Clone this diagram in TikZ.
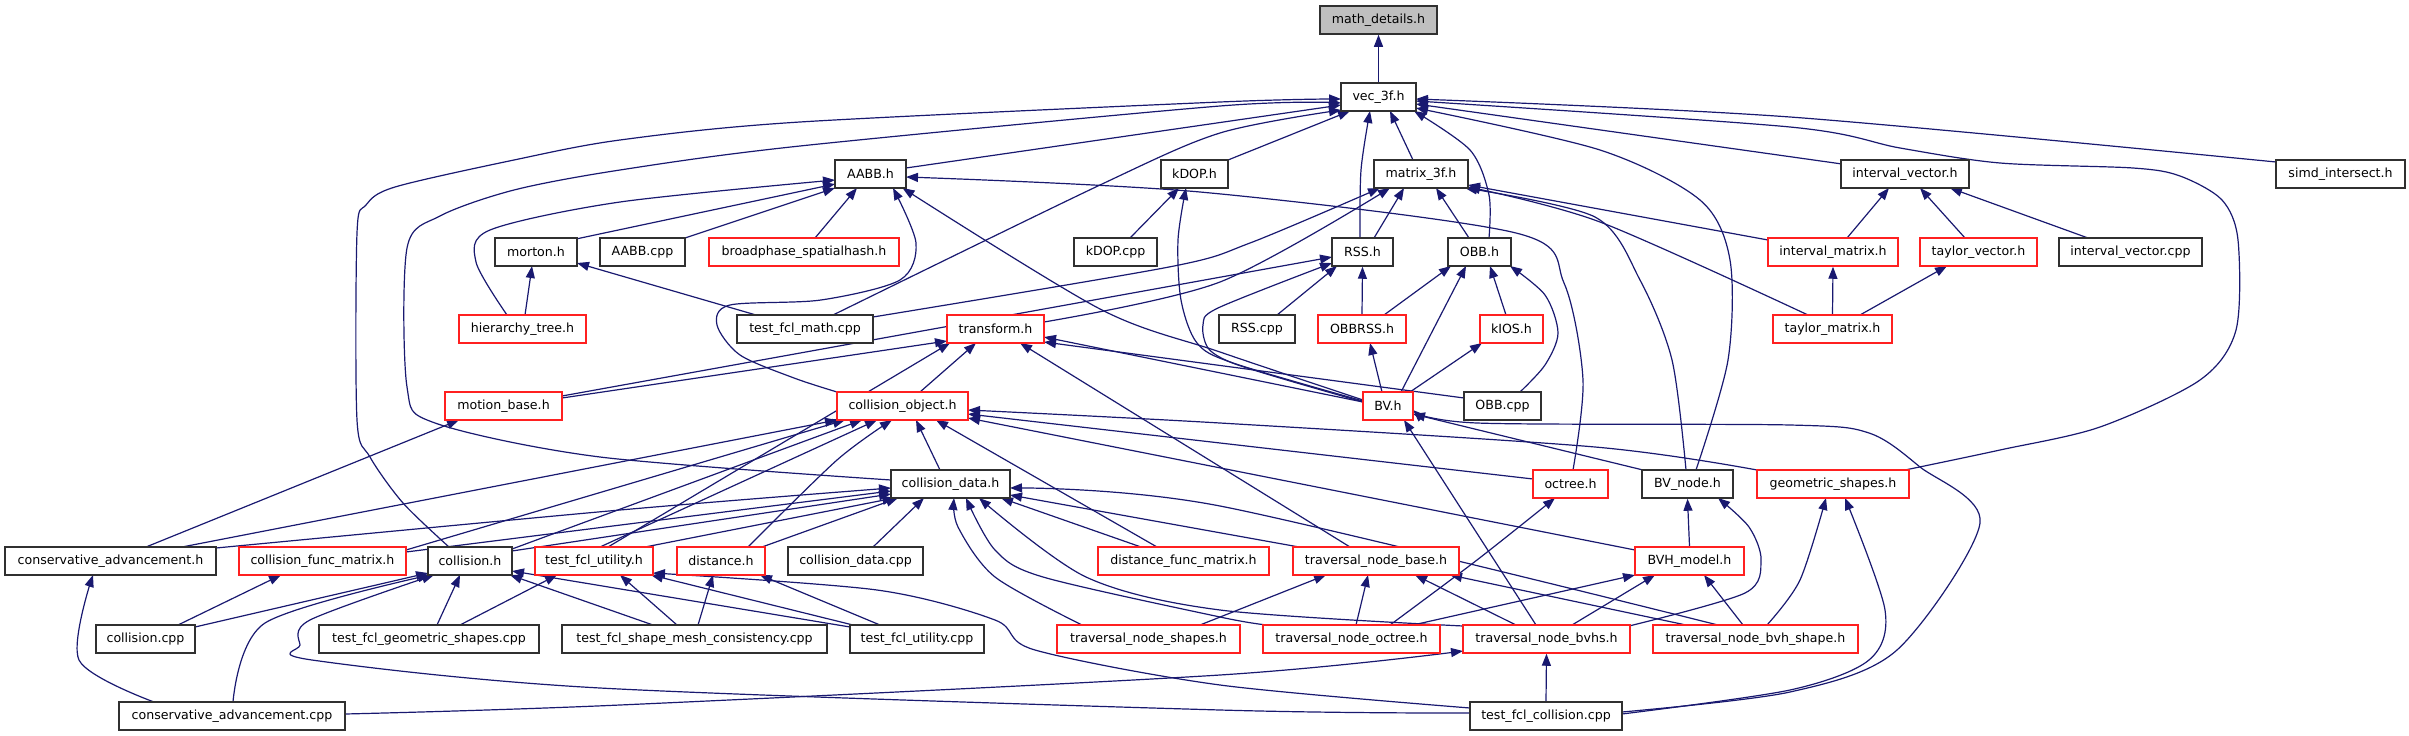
\documentclass[tikz,border=0pt]{standalone}
\usepackage{fontspec}
\newfontfamily\dvfont{DejaVu Sans}
\usetikzlibrary{calc,arrows.meta,backgrounds}
\definecolor{edgec}{HTML}{191970}
\definecolor{mdgray}{HTML}{BFBFBF}
\definecolor{nred}{HTML}{FF2020}
\definecolor{nblk}{HTML}{303030}
\tikzset{
  nb/.style={draw=nblk, line width=1.5pt, minimum height=28pt, inner sep=0pt, fill=white,
             font=\dvfont\fontsize{12.6}{15}\selectfont},
  nr/.style={nb, draw=nred},
  ng/.style={nb, fill=mdgray},
  edg/.style={draw=edgec, line width=1.2pt, -{Triangle[length=12pt,width=9pt]}},
}
\begin{document}
\begin{tikzpicture}[x=1pt,y=-1pt]
\useasboundingbox (0,0) rectangle (2409,736);
% row 0/1/2
\node[ng,minimum width=117pt] (md) at (1378.5,20) {math\_details.h};
\node[nb,minimum width=75pt] (v3) at (1378.5,97) {vec\_3f.h};
\node[nb,minimum width=71pt] (aabb) at (870.5,174) {AABB.h};
\node[nb,minimum width=67pt] (kdop) at (1194.5,174) {kDOP.h};
\node[nb,minimum width=94pt] (m3) at (1421,174) {matrix\_3f.h};
\node[nb,minimum width=128pt] (iv) at (1905,174) {interval\_vector.h};
\node[nb,minimum width=129pt] (simd) at (2340.5,174) {simd\_intersect.h};
% row 3
\node[nb,minimum width=82pt] (morton) at (536,252) {morton.h};
\node[nb,minimum width=85pt] (aabbcpp) at (642.5,252) {AABB.cpp};
\node[nr,minimum width=190pt] (bph) at (804,252) {broadphase\_spatialhash.h};
\node[nb,minimum width=83pt] (kdopcpp) at (1115.5,252) {kDOP.cpp};
\node[nb,minimum width=61pt] (rss) at (1362.5,252) {RSS.h};
\node[nb,minimum width=63pt] (obb) at (1479.5,252) {OBB.h};
\node[nr,minimum width=130pt] (im) at (1833,252) {interval\_matrix.h};
\node[nr,minimum width=117pt] (tv) at (1978.5,252) {taylor\_vector.h};
\node[nb,minimum width=143pt] (ivcpp) at (2130.5,252) {interval\_vector.cpp};
% row 4
\node[nr,minimum width=127pt] (ht) at (522.5,329) {hierarchy\_tree.h};
\node[nb,minimum width=136pt] (tmath) at (805,329) {test\_fcl\_math.cpp};
\node[nr,minimum width=97pt] (tf) at (995.5,329) {transform.h};
\node[nb,minimum width=76pt] (rsscpp) at (1257,329) {RSS.cpp};
\node[nr,minimum width=88pt] (obbrss) at (1362,329) {OBBRSS.h};
\node[nr,minimum width=63pt] (kios) at (1511.5,329) {kIOS.h};
\node[nr,minimum width=119pt] (tm) at (1832.5,329) {taylor\_matrix.h};
% row 5
\node[nr,minimum width=117pt] (mb) at (503.5,406) {motion\_base.h};
\node[nr,minimum width=131pt] (co) at (902.5,406) {collision\_object.h};
\node[nr,minimum width=50pt] (bv) at (1388,406) {BV.h};
\node[nb,minimum width=77pt] (obbcpp) at (1502.5,406) {OBB.cpp};
% row 6
\node[nb,minimum width=119pt] (cd) at (950.5,484) {collision\_data.h};
\node[nr,minimum width=75pt] (oct) at (1570.5,484) {octree.h};
\node[nb,minimum width=91pt] (bvn) at (1687.5,484) {BV\_node.h};
\node[nr,minimum width=152pt] (gs) at (1833,484) {geometric\_shapes.h};
% row 7
\node[nb,minimum width=211pt] (cah) at (110.5,561) {conservative\_advancement.h};
\node[nr,minimum width=167pt] (cfm) at (322.5,561) {collision\_func\_matrix.h};
\node[nb,minimum width=84pt] (col) at (470,561) {collision.h};
\node[nr,minimum width=118pt] (tuh) at (594,561) {test\_fcl\_utility.h};
\node[nr,minimum width=88pt] (dist) at (721,561) {distance.h};
\node[nb,minimum width=135pt] (cdcpp) at (855.5,561) {collision\_data.cpp};
\node[nr,minimum width=171pt] (dfm) at (1183.5,561) {distance\_func\_matrix.h};
\node[nr,minimum width=166pt] (tnb) at (1376,561) {traversal\_node\_base.h};
\node[nr,minimum width=109pt] (bvh) at (1689.5,561) {BVH\_model.h};
% row 8
\node[nb,minimum width=99pt] (colcpp) at (145.5,639) {collision.cpp};
\node[nb,minimum width=220pt] (tgs) at (429,639) {test\_fcl\_geometric\_shapes.cpp};
\node[nb,minimum width=265pt] (tsmc) at (694.5,639) {test\_fcl\_shape\_mesh\_consistency.cpp};
\node[nb,minimum width=134pt] (tucpp) at (917,639) {test\_fcl\_utility.cpp};
\node[nr,minimum width=183pt] (tns) at (1148.5,639) {traversal\_node\_shapes.h};
\node[nr,minimum width=177pt] (tno) at (1351.5,639) {traversal\_node\_octree.h};
\node[nr,minimum width=167pt] (tnbv) at (1546.5,639) {traversal\_node\_bvhs.h};
\node[nr,minimum width=205pt] (tnbs) at (1755.5,639) {traversal\_node\_bvh\_shape.h};
% row 9
\node[nb,minimum width=226pt] (cacpp) at (232,716) {conservative\_advancement.cpp};
\node[nb,minimum width=152pt] (tcol) at (1546,716) {test\_fcl\_collision.cpp};

\begin{pgfonlayer}{background}
\draw[edg] (v3.north) -- (md.south);
\draw[edg] ($(aabb)+(35.5,-6)$) -- ($(v3)+(-37.5,8)$);
\draw[edg] ($(kdop)+(33.5,-14)$) -- ($(v3)+(-28.5,14)$);
\draw[edg] ($(m3)+(-8,-14)$) -- ($(v3)+(11.5,14)$);
\draw[edg] plot[smooth] coordinates {($(rss)+(-2.5,-14)$) (1361,170) ($(v3)+(-8.5,14)$)};
\draw[edg] plot[smooth] coordinates {($(obb)+(9.5,-14)$) (1489,195) (1470,150) ($(v3)+(35.5,14)$)};
\draw[edg] ($(iv)+(-63,-10)$) -- ($(v3)+(37.5,7)$);
\draw[edg] plot[smooth] coordinates {($(simd)+(-64.5,-12)$) (1790,117) ($(v3)+(37.5,2)$)};
\draw[edg] plot[smooth] coordinates {($(bvn)+(8.5,-14)$) (1728,360) (1730,260) (1700,200) (1600,150) ($(v3)+(37.5,11)$)};
\draw[edg] plot[smooth] coordinates {($(gs)+(72,-14)$) (2000,450) (2100,427) (2200,380) (2236,330) (2238,240) (2222,200) (2180,176) (2133,168) (2000,163) (1900,148) (1790,127) ($(v3)+(37.5,4)$)};
\draw[edg] plot[smooth] coordinates {($(tmath)+(28,-14)$) (1100,185) (1220,133) ($(v3)+(-37.5,13)$)};
\draw[edg] plot[smooth] coordinates {($(col)+(-21,-14)$) (403,503) (370,457) (357,420) (357,233) (366,205) (395,187) (514,160) (620,140) (800,122) (1220,102) ($(v3)+(-37.5,2)$)};
\draw[edg] plot[smooth] coordinates {($(cd)+(-59.5,-4)$) (600,457) (435,423) (407,387) (407,248) (440,216) (514,190) (620,170) (800,146) (1220,106) ($(v3)+(-37.5,6)$)};
% AABB
\draw[edg] ($(morton)+(40,-13)$) -- ($(aabb)+(-35.5,10)$);
\draw[edg] ($(aabbcpp)+(42.5,-14)$) -- ($(aabb)+(-35.5,14)$);
\draw[edg] ($(bph)+(11,-14)$) -- ($(aabb)+(-13.5,14)$);
\draw[edg] plot[smooth] coordinates {($(ht)+(-15.5,-14)$) (476,262) (490,230) (620,202) ($(aabb)+(-35.5,6)$)};
\draw[edg] plot[smooth] coordinates {($(co)+(-65.5,-14)$) (794,378) (740,355) (717,325) (730,305) (821,300) (900,280) (916,243) ($(aabb)+(22.5,14)$)};
\draw[edg] plot[smooth] coordinates {($(bv)+(-25,-6)$) (1220,352) (1100,309) ($(aabb)+(32,14)$)};
\draw[edg] plot[smooth] coordinates {($(oct)+(2.5,-14)$) (1583,380) (1564,283) (1516,233) (1200,192) ($(aabb)+(35.5,3)$)};
% kDOP
\draw[edg] ($(kdopcpp)+(14.5,-14)$) -- ($(kdop)+(-15.5,14)$);
\draw[edg] plot[smooth] coordinates {($(bv)+(-25,-5)$) (1233,363) (1197,343) (1181,300) (1178,240) ($(kdop)+(-8.5,14)$)};
% matrix_3f
\draw[edg] ($(rss)+(11.5,-14)$) -- ($(m3)+(-17,14)$);
\draw[edg] ($(obb)+(-10.5,-14)$) -- ($(m3)+(15,14)$);
\draw[edg] plot[smooth] coordinates {($(tf)+(48.5,-7)$) (1220,282) ($(m3)+(-31,14)$)};
\draw[edg] plot[smooth] coordinates {($(tmath)+(68,-12)$) (1169,267) (1250,243) ($(m3)+(-41,14)$)};
\draw[edg] ($(im)+(-65,-12)$) -- ($(m3)+(47,11)$);
\draw[edg] plot[smooth] coordinates {($(tm)+(-24.5,-14)$) (1600,222) ($(m3)+(47,13)$)};
\draw[edg] plot[smooth] coordinates {($(bvn)+(-1.5,-14)$) (1672,360) (1640,280) (1595,217) ($(m3)+(44,14)$)};
% interval
\draw[edg] ($(im)+(14,-14)$) -- ($(iv)+(-16,14)$);
\draw[edg] ($(tv)+(-13.5,-14)$) -- ($(iv)+(15,14)$);
\draw[edg] ($(ivcpp)+(-42.5,-14)$) -- ($(iv)+(45,14)$);
\draw[edg] (tm.north) -- (im.south);
\draw[edg] ($(tm)+(27.5,-14)$) -- ($(tv)+(-31.5,14)$);
% morton
\draw[edg] ($(ht)+(2.5,-14)$) -- ($(morton)+(-4,14)$);
\draw[edg] ($(tmath)+(-49,-14)$) -- ($(morton)+(41,11)$);
% RSS / OBB
\draw[edg] ($(mb)+(58.5,-10)$) -- ($(rss)+(-30.5,5)$);
\draw[edg] plot[smooth] coordinates {($(bv)+(-25,-4)$) (1280,378) (1230,362) (1208,348) (1203,325) (1218,308) ($(rss)+(-30.5,11)$)};
\draw[edg] ($(rsscpp)+(20,-14)$) -- ($(rss)+(-25.5,14)$);
\draw[edg] (obbrss.north) -- (rss.south);
\draw[edg] ($(obbrss)+(22,-14)$) -- ($(obb)+(-28.5,14)$);
\draw[edg] ($(bv)+(13,-14)$) -- ($(obb)+(-13.5,14)$);
\draw[edg] ($(kios)+(-5.5,-14)$) -- ($(obb)+(10.5,14)$);
\draw[edg] plot[smooth] coordinates {($(obbcpp)+(17.5,-14)$) (1545,365) (1558,333) (1545,295) ($(obb)+(30.5,14)$)};
\draw[edg] ($(bv)+(-6,-14)$) -- ($(obbrss)+(8,14)$);
\draw[edg] ($(bv)+(22,-14)$) -- ($(kios)+(-29.5,14)$);
% transform
\draw[edg] ($(mb)+(58.5,-8)$) -- ($(tf)+(-48.5,12)$);
\draw[edg] ($(tuh)+(14,-14)$) -- ($(tf)+(-45.5,14)$);
\draw[edg] ($(co)+(17.5,-14)$) -- ($(tf)+(-19.5,14)$);
\draw[edg] ($(tnb)+(-26,-14)$) -- ($(tf)+(24.5,14)$);
\draw[edg] ($(bv)+(-25,-4)$) -- ($(tf)+(48.5,8)$);
\draw[edg] ($(obbcpp)+(-38.5,-8)$) -- ($(tf)+(48.5,13)$);
% motion_base
\draw[edg] ($(cah)+(35.5,-14)$) -- ($(mb)+(-44.5,14)$);
% collision_object
\draw[edg] ($(cd)+(-10.5,-14)$) -- ($(co)+(13.5,14)$);
\draw[edg] ($(cah)+(71.5,-14)$) -- ($(co)+(-65.5,14)$);
\draw[edg] ($(cfm)+(83.5,-11)$) -- ($(co)+(-57.5,14)$);
\draw[edg] ($(col)+(42,-12)$) -- ($(co)+(-40.5,14)$);
\draw[edg] ($(tuh)+(6,-14)$) -- ($(co)+(-25.5,14)$);
\draw[edg] plot[smooth] coordinates {($(dist)+(27,-14)$) (837,460) ($(co)+(-10.5,14)$)};
\draw[edg] ($(dfm)+(-26.5,-14)$) -- ($(co)+(33.5,14)$);
\draw[edg] plot[smooth] coordinates {($(gs)+(-76,-14)$) (1595,447) (1220,423) ($(co)+(65.5,4)$)};
\draw[edg] ($(oct)+(-37.5,-5)$) -- ($(co)+(65.5,8)$);
\draw[edg] ($(bvh)+(-54.5,-11)$) -- ($(co)+(65.5,12)$);
% collision_data
\draw[edg] plot[smooth] coordinates {($(cah)+(105.5,-13)$) (620,510) ($(cd)+(-59.5,4)$)};
\draw[edg] ($(cfm)+(83.5,-9)$) -- ($(cd)+(-59.5,7)$);
\draw[edg] ($(col)+(42,-10)$) -- ($(cd)+(-59.5,10)$);
\draw[edg] ($(tuh)+(51,-14)$) -- ($(cd)+(-56,14)$);
\draw[edg] ($(dist)+(41,-14)$) -- ($(cd)+(-52.5,14)$);
\draw[edg] ($(cdcpp)+(17.5,-14)$) -- ($(cd)+(-26.5,14)$);
\draw[edg] ($(dfm)+(-42.5,-14)$) -- ($(cd)+(50.5,14)$);
\draw[edg] ($(tnb)+(-77,-14)$) -- ($(cd)+(59.5,11)$);
\draw[edg] plot[smooth] coordinates {($(tns)+(-66.5,-14)$) (995,577) (958,527) ($(cd)+(3.5,14)$)};
\draw[edg] plot[smooth] coordinates {($(tno)+(-84.5,-14)$) (1220,617) (1043,577) (995,550) ($(cd)+(15.5,14)$)};
\draw[edg] plot[smooth] coordinates {($(tnbv)+(-83.5,-13)$) (1220,610) (1086,577) ($(cd)+(28.5,14)$)};
\draw[edg] plot[smooth] coordinates {($(tnbs)+(-37.5,-14)$) (1220,506) ($(cd)+(59.5,4)$)};
% BV
\draw[edg] ($(bvn)+(-44.5,-14)$) -- ($(bv)+(25,8)$);
\draw[edg] ($(tnbv)+(-10.5,-14)$) -- ($(bv)+(16,14)$);
\draw[edg] plot[smooth] coordinates {($(tcol)+(76,-4)$) (1790,692) (1897,650) (1980,523) (1920,467) (1869,433) (1790,425) (1477,423) ($(bv)+(25,4)$)};
% octree, BV_node, geometric_shapes
\draw[edg] plot[smooth] coordinates {($(tno)+(38.5,-14)$) (1477,560) ($(oct)+(-15.5,14)$)};
\draw[edg] (bvh.north) -- (bvn.south);
\draw[edg] plot[smooth] coordinates {($(tnbv)+(82.5,-13)$) (1745,593) (1761,560) (1749,527) ($(bvn)+(30.5,14)$)};
\draw[edg] plot[smooth] coordinates {($(tnbs)+(11.5,-14)$) (1800,580) ($(gs)+(-7,14)$)};
\draw[edg] plot[smooth] coordinates {($(tcol)+(76,-2)$) (1790,690) (1869,660) (1885,610) ($(gs)+(12,14)$)};
% BVH_model
\draw[edg] ($(tno)+(61.5,-14)$) -- ($(bvh)+(-54.5,14)$);
\draw[edg] ($(tnbv)+(25.5,-14)$) -- ($(bvh)+(-34.5,14)$);
\draw[edg] ($(tnbs)+(-12.5,-14)$) -- ($(bvh)+(14.5,14)$);
% traversal_node_base
\draw[edg] ($(tns)+(51.5,-14)$) -- ($(tnb)+(-50,14)$);
\draw[edg] ($(tno)+(4.5,-14)$) -- ($(tnb)+(-8,14)$);
\draw[edg] ($(tnbv)+(-30.5,-14)$) -- ($(tnb)+(39,14)$);
\draw[edg] ($(tnbs)+(-69.5,-14)$) -- ($(tnb)+(74,14)$);
% traversal_node_bvhs
\draw[edg] (tcol.north) -- (tnbv.south);
\draw[edg] plot[smooth] coordinates {($(cacpp)+(113,-2)$) (620,705) (1220,675) ($(tnbv)+(-83.5,12)$)};
% lower left
\draw[edg] plot[smooth] coordinates {($(cacpp)+(-78,-14)$) (79,660) ($(cah)+(-17.5,14)$)};
\draw[edg] ($(colcpp)+(32.5,-14)$) -- ($(cfm)+(-41.5,14)$);
\draw[edg] ($(colcpp)+(49.5,-12)$) -- ($(col)+(-42,12)$);
\draw[edg] plot[smooth] coordinates {($(cacpp)+(1,-14)$) (265,623) ($(col)+(-40,14)$)};
\draw[edg] plot[smooth] coordinates {($(tcol)+(-76,-3)$) (1220,710) (600,688) (312,660) (300,645) (310,620) ($(col)+(-36,14)$)};
\draw[edg] ($(tgs)+(8,-14)$) -- ($(col)+(-10,14)$);
\draw[edg] ($(tsmc)+(-41.5,-14)$) -- ($(col)+(40,14)$);
\draw[edg] ($(tucpp)+(-67,-12)$) -- ($(col)+(42,10)$);
\draw[edg] ($(tgs)+(31,-14)$) -- ($(tuh)+(-37,14)$);
\draw[edg] ($(tsmc)+(-17.5,-14)$) -- ($(tuh)+(26,14)$);
\draw[edg] ($(tucpp)+(-64,-14)$) -- ($(tuh)+(57,14)$);
\draw[edg] plot[smooth] coordinates {($(tcol)+(-76,-8)$) (1220,685) (1035,650) (995,620) (877,590) ($(tuh)+(59,12)$)};
\draw[edg] ($(tsmc)+(3.5,-14)$) -- ($(dist)+(-8,14)$);
\draw[edg] ($(tucpp)+(-37,-14)$) -- ($(dist)+(39,14)$);
\end{pgfonlayer}
\end{tikzpicture}
\end{document}
